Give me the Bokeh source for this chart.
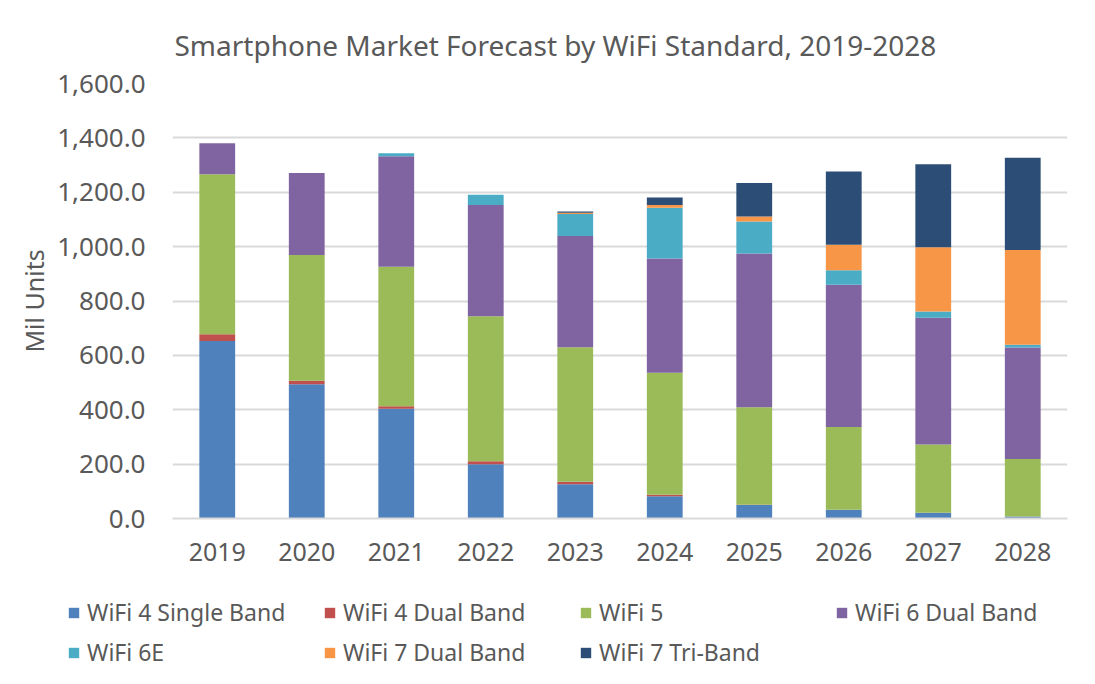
from bokeh.plotting import figure
from bokeh.layouts import column
from bokeh.models import Legend, LegendItem, NumeralTickFormatter, FixedTicker, Range1d
from bokeh.embed import file_html
from bokeh.resources import INLINE

years = ["2019", "2020", "2021", "2022", "2023", "2024", "2025", "2026", "2027", "2028"]
wifi4_single = [653, 494, 404, 200, 126, 82, 50, 32, 21, 7]
wifi4_dual = [25, 13, 9, 11, 9, 5, 1, 0, 0, 0]
wifi5 = [588, 462, 513, 533, 495, 449, 358, 305, 251, 212]
wifi6_dual = [114, 302, 406, 409, 409, 420, 566, 523, 466, 410]
wifi6e = [0, 0, 11, 38, 81, 187, 117, 53, 23, 10]
wifi7_dual = [0, 0, 0, 0, 5, 10, 19, 94, 237, 349]
wifi7_tri = [0, 0, 0, 0, 4, 28, 123, 269, 305, 339]

series_names = ["WiFi 4 Single Band", "WiFi 4 Dual Band", "WiFi 5", "WiFi 6 Dual Band",
                "WiFi 6E", "WiFi 7 Dual Band", "WiFi 7 Tri-Band"]
keys = ["w4s", "w4d", "w5", "w6d", "w6e", "w7d", "w7t"]
colors = ["#4F81BD", "#C0504D", "#9BBB59", "#8064A2", "#4BACC6", "#F79646", "#2C4D75"]
y_ticks = [0, 200, 400, 600, 800, 1000, 1200, 1400, 1600]

data = dict(years=years, w4s=wifi4_single, w4d=wifi4_dual, w5=wifi5, w6d=wifi6_dual,
            w6e=wifi6e, w7d=wifi7_dual, w7t=wifi7_tri)

FONT = "Noto Sans"
TXT = "#595959"

p = figure(x_range=years, width=1095, height=588, output_backend="svg",
           toolbar_location=None, min_border_left=172, min_border_right=28,
           min_border_top=83, min_border_bottom=70)
p.frame_align = False
p.y_range = Range1d(0, 1600)

renderers = p.vbar_stack(keys, x="years", width=0.4, color=colors, line_color=None, source=data)

p.title.text = "Smartphone Market Forecast by WiFi Standard, 2019-2028"
p.title.align = "left"
p.title.offset = 2
p.title.standoff = 39
p.title.text_font = FONT
p.title.text_font_size = "28px"
p.title.text_font_style = "normal"
p.title.text_color = TXT

p.xgrid.grid_line_color = None
p.ygrid.grid_line_color = "#D9D9D9"
p.ygrid.grid_line_width = 2
p.outline_line_color = None

p.yaxis.ticker = FixedTicker(ticks=y_ticks)
p.yaxis.formatter = NumeralTickFormatter(format="0,0.0")
p.yaxis.axis_line_color = None
p.yaxis.major_tick_line_color = None
p.yaxis.minor_tick_line_color = None
p.yaxis.major_label_standoff = 21
p.yaxis.major_label_text_font = FONT
p.yaxis.major_label_text_font_size = "26px"
p.yaxis.major_label_text_color = TXT
p.yaxis.axis_label = "Mil Units"
p.yaxis.axis_label_text_font = FONT
p.yaxis.axis_label_text_font_size = "25px"
p.yaxis.axis_label_text_font_style = "normal"
p.yaxis.axis_label_text_color = TXT
p.yaxis.axis_label_standoff = 3

p.xaxis.axis_line_color = "#D9D9D9"
p.xaxis.axis_line_width = 2
p.xaxis.major_tick_line_color = None
p.xaxis.minor_tick_line_color = None
p.xaxis.major_label_standoff = 18
p.xaxis.major_label_text_font = FONT
p.xaxis.major_label_text_font_size = "25px"
p.xaxis.major_label_text_color = TXT

# legend panel: a second figure below holding the same series (hidden), only its legend shows
lg = figure(x_range=years, width=1095, height=96, output_backend="svg", toolbar_location=None,
            min_border=0, y_range=Range1d(0, 1600))
lg.frame_align = False
lg.axis.visible = False
lg.grid.visible = False
lg.outline_line_color = None
swatches = lg.vbar_stack(keys, x="years", width=0.4, color=colors, line_color=None, source=data)
for r in swatches:
    r.visible = False
items = [LegendItem(label=n, renderers=[r]) for n, r in zip(series_names, swatches)]
legend = Legend(items=items, orientation="horizontal", ncols=4, location=(67, 16),
                padding=0, margin=0, border_line_color=None, background_fill_alpha=0,
                inactive_fill_alpha=0,
                glyph_width=13, glyph_height=13, label_standoff=7, label_width=228,
                label_height=30, spacing=8, label_text_font=FONT,
                label_text_font_size="23px", label_text_color=TXT)
lg.add_layout(legend, "center")

layout = column(p, lg, spacing=0)
open("out.html", "w").write(file_html(layout, INLINE))
